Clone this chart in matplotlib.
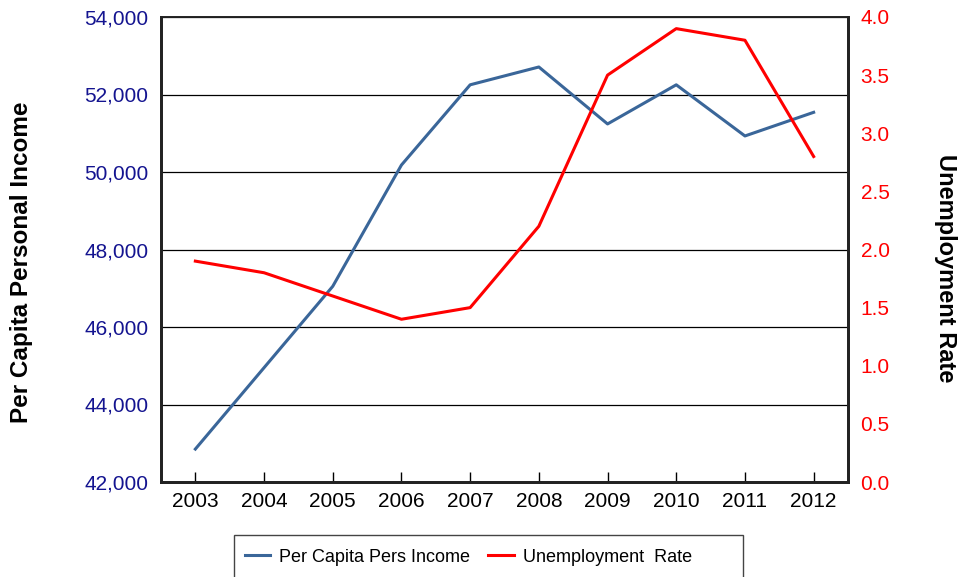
import matplotlib

matplotlib.use("Agg")
import matplotlib.pyplot as plt
from matplotlib.patches import Rectangle
from matplotlib.ticker import FuncFormatter, MultipleLocator

plt.rcParams["font.family"] = ["Liberation Sans", "DejaVu Sans"]

YEARS = ["2003", "2004", "2005", "2006", "2007", "2008", "2009", "2010", "2011", "2012"]
INCOME = [42850, 44950, 47050, 50180, 52250, 52710, 51240, 52250, 50930, 51540]
UNEMPLOYMENT = [1.9, 1.8, 1.6, 1.4, 1.5, 2.2, 3.5, 3.9, 3.8, 2.8]

BLUE = "#3a6699"
RED = "#ff0000"
NAVY = "#141490"

W, H = 959, 577
fig = plt.figure(figsize=(W / 100, H / 100), dpi=100)
ax = fig.add_axes([161 / W, 1 - 482 / H, 687 / W, 465 / H])
ax2 = ax.twinx()

x = list(range(len(YEARS)))
l1, = ax.plot(x, INCOME, color=BLUE, linewidth=2.2, label="Per Capita Pers Income")
l2, = ax2.plot(x, UNEMPLOYMENT, color=RED, linewidth=2.2, label="Unemployment  Rate")

ax.set_xlim(-0.5, len(YEARS) - 0.5)
ax.set_ylim(42000, 54000)
ax.yaxis.set_major_locator(MultipleLocator(2000))
ax.yaxis.set_major_formatter(FuncFormatter(lambda v, p: f"{v:,.0f}"))
ax2.set_ylim(0, 4.0)
ax2.yaxis.set_major_locator(MultipleLocator(0.5))
ax2.yaxis.set_major_formatter(FuncFormatter(lambda v, p: f"{v:.1f}"))

ax.set_xticks(x)
ax.set_xticklabels(YEARS)
ax.tick_params(axis="x", direction="in", length=7, width=1, labelsize=15, pad=7, colors="black")
ax.tick_params(axis="y", length=0, labelsize=15, labelcolor=NAVY, pad=9)
ax2.tick_params(axis="y", length=0, labelsize=15, labelcolor=RED, pad=9)

ax.grid(axis="y", color="black", linewidth=0.9)
ax.set_axisbelow(True)

for a in (ax, ax2):
    a.spines["left"].set_linewidth(2)
    a.spines["bottom"].set_linewidth(2)
    a.spines["right"].set_linewidth(2)
    a.spines["top"].set_linewidth(1.2)
    for s in a.spines.values():
        s.set_color("#222222")

fig.text(22 / W, 1 - 262 / H, "Per Capita Personal Income", rotation=90,
         ha="center", va="center", fontsize=17.5, fontweight="bold")
fig.text(945 / W, 1 - 268 / H, "Unemployment Rate", rotation=-90,
         ha="center", va="center", fontsize=17, fontweight="bold")

# legend box is wider on the right than matplotlib's padding allows, so draw it separately
fig.patches.append(Rectangle((234 / W, -0.05), (743 - 234) / W, 0.05 + 1 - 535 / H,
                             transform=fig.transFigure, fill=False,
                             edgecolor="#444444", linewidth=1))
fig.legend([l1, l2], [l1.get_label(), l2.get_label()], ncol=2,
           loc="center left", bbox_to_anchor=(236 / W, 1 - 557 / H),
           frameon=False, fontsize=13, handlelength=1.4,
           columnspacing=1.0, borderpad=0.0, handletextpad=0.5)

fig.savefig("out.png", dpi=100)
